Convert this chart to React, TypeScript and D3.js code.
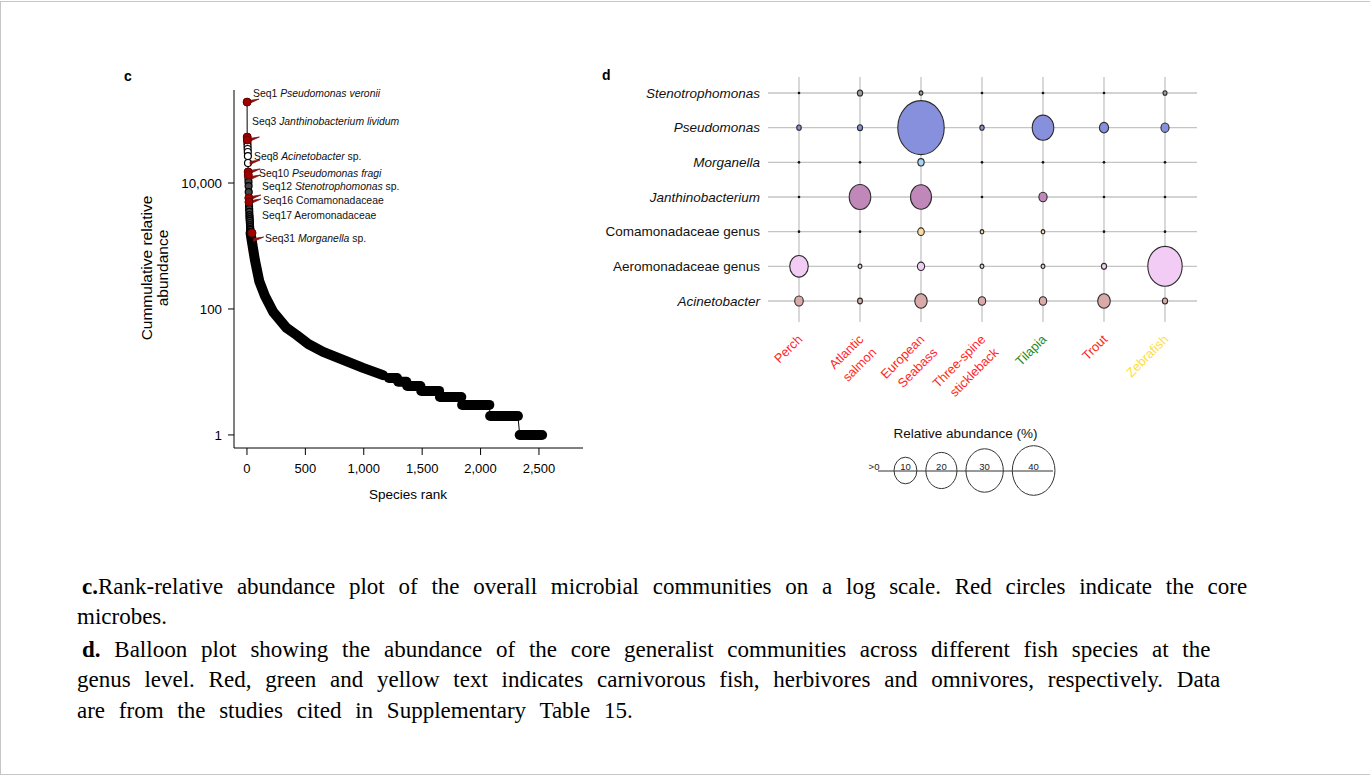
import React from 'react';
import * as d3 from 'd3';

const W = 1370;
const H = 776;

// ---------- Panel c data ----------
// ranks 1..31 (individually visible points)
const headValues = [193000, 53700, 48200, 43200, 38700, 34700, 31100, 26800, 20800, 15000, 13400, 12000, 10400, 8960, 7190, 5780, 4990, 4310, 3870, 3470, 3100, 2880, 2680, 2500, 2320, 2150, 2000, 1860, 1800, 1670, 1610];
const coreRanks = [1, 2, 3, 10, 11, 16, 17, 31];
// dense body of the curve
const curveRanks = [31, 40, 68, 105, 154, 225, 339, 425, 525, 652, 823, 994, 1165];
const curveValues = [1610, 1245, 600, 277, 161, 89.6, 50, 38.6, 27.8, 20.8, 15.5, 11.6, 8.9];
// integer-valued tail steps
const stepValues = [8, 7, 6, 5, 4, 3, 2, 1];
const stepStart = [1215, 1295, 1372, 1492, 1652, 1842, 2082, 2335];
const stepEnd = [1285, 1365, 1485, 1645, 1835, 2075, 2320, 2527];

const xTicks = [0, 500, 1000, 1500, 2000, 2500];
const yTicks = [1, 100, 10000];

// annotation: rank of the core point and value at which the label sits
const annSeq = ['Seq1', 'Seq3', 'Seq8', 'Seq10', 'Seq12', 'Seq16', 'Seq17', 'Seq31'];
const annItalic = ['Pseudomonas veronii', 'Janthinobacterium lividum', 'Acinetobacter', 'Pseudomonas fragi', 'Stenotrophomonas', '', '', 'Morganella'];
const annPlain = ['', '', ' sp.', '', ' sp.', 'Comamonadaceae', 'Aeromonadaceae', ' sp.'];
const annRank = [1, 3, 9, 10, 12, 16, 17, 40];
const annLabelValue = [268000, 96400, 26800, 14400, 8960, 5370, 3100, 1340];

// ---------- Panel d data ----------
const genera = ['Stenotrophomonas', 'Pseudomonas', 'Morganella', 'Janthinobacterium', 'Comamonadaceae genus', 'Aeromonadaceae genus', 'Acinetobacter'];
const generaItalic = [true, true, true, true, false, false, true];
const fishNames = [['Perch'], ['Atlantic', 'salmon'], ['European', 'Seabass'], ['Three-spine', 'stickleback'], ['Tilapia'], ['Trout'], ['Zebrafish']];
const fishDiet = ['carnivore', 'carnivore', 'carnivore', 'carnivore', 'herbivore', 'carnivore', 'omnivore'];
const abundance = [
  [0, 0.12, 0.01, 0, 0, 0, 0.02],
  [0.05, 0.1, 48, 0.04, 8.7, 0.93, 0.63],
  [0, 0, 0.27, 0, 0, 0, 0],
  [0, 8.7, 8.2, 0, 0.68, 0, 0],
  [0, 0, 0.3, 0.005, 0.005, 0, 0],
  [6.1, 0.01, 0.43, 0.01, 0.01, 0.11, 25],
  [0.77, 0.08, 2.2, 0.47, 0.47, 2.3, 0.11],
];
const legendValues = [10, 20, 30, 40];

const rowColors = ['#9c9c9c', '#8790dc', '#a6d4f2', '#c088b8', '#ffd9a0', '#f2ccf5', '#d9aaa8'];
const dietColors: Record<string, string> = { carnivore: '#ff1f1f', herbivore: '#1e8a1e', omnivore: '#ffde33' };

const captionLines: { bold: string; text: string; indent: boolean }[] = [
  { bold: 'c.', text: 'Rank-relative abundance plot of the overall microbial communities on a log scale. Red circles indicate the core', indent: true },
  { bold: '', text: 'microbes.', indent: false },
  { bold: 'd.', text: ' Balloon plot showing the abundance of the core generalist communities across different fish species at the', indent: true },
  { bold: '', text: 'genus level. Red, green and yellow text indicates carnivorous fish, herbivores and omnivores, respectively. Data', indent: false },
  { bold: '', text: 'are from the studies cited in Supplementary Table 15.', indent: false },
];

const SANS = '"Liberation Sans", Arial, sans-serif';
const SERIF = '"Liberation Serif", "Times New Roman", serif';

function PanelC() {
  const x = d3.scaleLinear().domain([-111, 2877]).range([234, 583]);
  const y = d3.scaleLog().domain([0.62, 300000]).range([448, 90]);
  const head = headValues.map((v, i) => ({ r: i + 1, v }));
  const curve = curveRanks.map((r, i) => ({ r, v: curveValues[i] }));
  const line = d3.line<{ r: number; v: number }>().x(d => x(d.r)).y(d => y(d.v));
  const allPts: { r: number; v: number }[] = [...head, ...curve.slice(1)];
  stepValues.forEach((v, i) => { allPts.push({ r: stepStart[i], v }); allPts.push({ r: stepEnd[i], v }); });
  return (
    <g fontFamily={SANS}>
      <text x={124} y={81} fontSize={14} fontWeight="bold">c</text>
      <path d={line(allPts) || ''} fill="none" stroke="#000" strokeWidth={1} />
      <path d={line(curve) || ''} fill="none" stroke="#000" strokeWidth={10} strokeLinejoin="round" strokeLinecap="round" />
      {stepValues.map((v, i) => (
        <line key={i} x1={x(stepStart[i])} x2={x(stepEnd[i])} y1={y(v)} y2={y(v)} stroke="#000" strokeWidth={10} strokeLinecap="round" />
      ))}
      {head.map(d => (
        <circle key={d.r} cx={x(d.r)} cy={y(d.v)} r={3.5} fill={d.r > 12 ? '#444' : '#fff'} stroke="#000" strokeWidth={1.2} />
      ))}
      {annRank.map((rk, i) => {
        const pv = rk <= headValues.length ? headValues[rk - 1] : 1245;
        const px = x(rk), py = y(pv);
        return <path key={i} d={`M${px + 2},${py - 1.5} L${px + 12},${py - 3} L${px + 2},${py + 1.5} Z`} fill="#8b1010" stroke="#8b1010" strokeWidth={0.8} />;
      })}
      {head.filter(d => coreRanks.includes(d.r)).map(d => (
        <circle key={'c' + d.r} cx={x(d.r) + (d.r === 31 ? 1.5 : 0)} cy={y(d.v)} r={4} fill="#a00000" stroke="#5a0000" strokeWidth={0.8} />
      ))}
      {annSeq.map((s, i) => {
        const dx = [6, 5, 7, 12, 15, 16, 15, 18][i];
        return (
          <text key={s} x={x(0) + dx} y={y(annLabelValue[i])} dy="0.35em" fontSize={10.4} fill="#111">
            <tspan>{s} </tspan>
            {annItalic[i] && <tspan fontStyle="italic">{annItalic[i]}</tspan>}
            {annPlain[i] && <tspan>{annPlain[i]}</tspan>}
          </text>
        );
      })}
      <line x1={234} x2={234} y1={90} y2={448} stroke="#000" strokeWidth={1} />
      <line x1={234} x2={583} y1={448} y2={448} stroke="#000" strokeWidth={1} />
      {yTicks.map(t => (
        <g key={t}>
          <line x1={228} x2={234} y1={y(t)} y2={y(t)} stroke="#000" />
          <text x={222} y={y(t)} dy="0.35em" textAnchor="end" fontSize={13.3}>{d3.format(',')(t)}</text>
        </g>
      ))}
      {xTicks.map(t => (
        <g key={t}>
          <line x1={x(t)} x2={x(t)} y1={448} y2={455} stroke="#000" />
          <text x={x(t)} y={473} textAnchor="middle" fontSize={13}>{d3.format(',')(t)}</text>
        </g>
      ))}
      <text x={408} y={499} textAnchor="middle" fontSize={13.5}>Species rank</text>
      <g transform="translate(147,268) rotate(-90)">
        <text x={0} y={0} dy="0.35em" textAnchor="middle" fontSize={15.5}>Cummulative relative</text>
        <text x={0} y={16} dy="0.35em" textAnchor="middle" fontSize={15.5}>abundance</text>
      </g>
    </g>
  );
}

function PanelD() {
  const x = d3.scalePoint<number>().domain(d3.range(fishNames.length)).range([799, 1165]);
  const y = d3.scalePoint<number>().domain(d3.range(genera.length)).range([93, 301]);
  const r = d3.scaleSqrt().domain([0, 40]).range([1.8, 24.8]);
  const aspect = 0.86;
  const legendX: number[] = [];
  let cursor = 894;
  legendValues.forEach(v => { const rx = r(v) * aspect; legendX.push(cursor + rx); cursor += 2 * rx + 9; });
  return (
    <g fontFamily={SANS}>
      <text x={602} y={80} fontSize={14} fontWeight="bold">d</text>
      {genera.map((g, i) => (
        <line key={'h' + i} x1={768} x2={1197} y1={y(i)} y2={y(i)} stroke="#c4c4c4" strokeWidth={1.3} />
      ))}
      {fishNames.map((f, j) => (
        <line key={'v' + j} x1={x(j)} x2={x(j)} y1={77} y2={322} stroke="#c4c4c4" strokeWidth={1.3} />
      ))}
      {genera.map((g, i) => (
        <text key={g} x={760} y={y(i)} dy="0.35em" textAnchor="end" fontSize={13.5} fontStyle={generaItalic[i] ? 'italic' : 'normal'} fill="#111">{g}</text>
      ))}
      {abundance.map((row, i) => row.map((v, j) => (
        v === 0
          ? <circle key={i + '-' + j} cx={x(j)} cy={y(i)} r={1.3} fill="#111" />
          : <ellipse key={i + '-' + j} cx={x(j)} cy={y(i)} rx={r(v) * aspect} ry={r(v)} fill={rowColors[i]} stroke="#2b2b2b" strokeWidth={1.1} />
      )))}
      {fishNames.map((lines, j) => (
        <g key={'f' + j}>
          {lines.map((ln, k) => (
            <text key={k} transform={`translate(${x(j) + 1 + k * 13},${337 + k * 13}) rotate(-45)`} textAnchor="end" dy="0.35em" fontSize={12.8} fill={dietColors[fishDiet[j]]}>{ln}</text>
          ))}
        </g>
      ))}
      <text x={965.5} y={433} dy="0.35em" textAnchor="middle" fontSize={13.5} fill="#111">Relative abundance (%)</text>
      <line x1={878} x2={1053} y1={471} y2={471} stroke="#333" strokeWidth={1.2} />
      <text x={874} y={467} dy="0.35em" textAnchor="middle" fontSize={9.5} fill="#222">&gt;0</text>
      {legendValues.map((v, i) => (
        <g key={v}>
          <ellipse cx={legendX[i]} cy={470.5} rx={r(v) * aspect} ry={r(v)} fill="none" stroke="#333" strokeWidth={1} />
          <text x={legendX[i]} y={467} dy="0.35em" textAnchor="middle" fontSize={9.5} fill="#222">{v}</text>
        </g>
      ))}
    </g>
  );
}

export default function App() {
  return (
    <svg width={W} height={H} style={{ position: 'absolute', left: 0, top: 0, background: '#fff' }}>
      <rect x={0} y={0} width={W} height={H} fill="#fff" />
      <rect x={0.5} y={1.5} width={W + 2} height={773} fill="none" stroke="#c6c6c6" strokeWidth={1} />
      <PanelC />
      <PanelD />
      <g fontFamily={SERIF} fontSize={23} fill="#000">
        {captionLines.map((c, i) => (
          <text key={i} x={c.indent ? 82 : 77} y={[594, 624, 657, 687, 718][i]} style={{ whiteSpace: 'pre', wordSpacing: '8px' }}>
            {c.bold && <tspan fontWeight="bold">{c.bold}</tspan>}
            <tspan>{c.text}</tspan>
          </text>
        ))}
      </g>
    </svg>
  );
}
